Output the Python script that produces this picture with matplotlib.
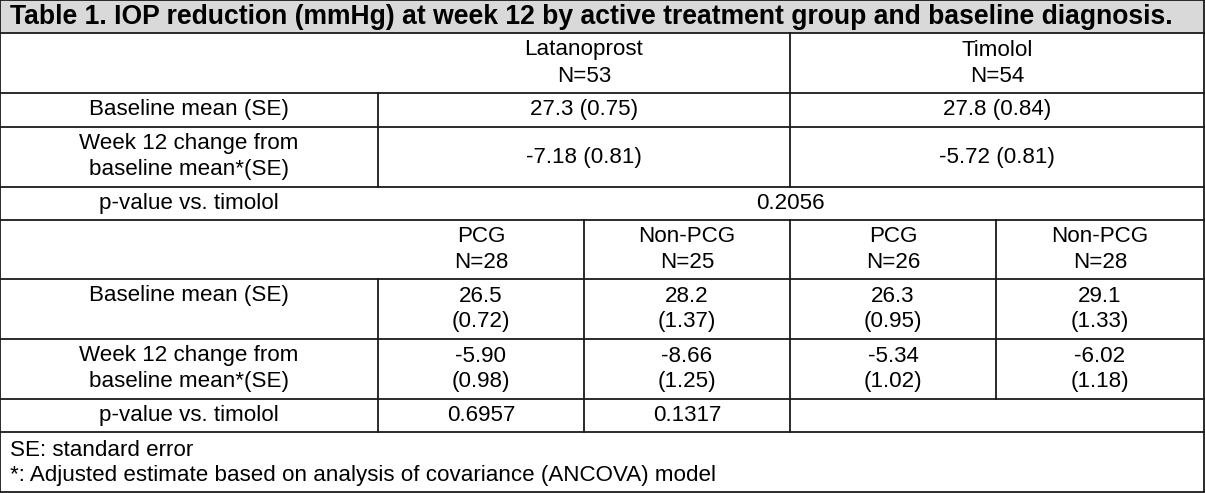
import matplotlib

matplotlib.use("Agg")
import matplotlib.pyplot as plt
from matplotlib.patches import Rectangle

plt.rcParams["font.family"] = ["Liberation Sans", "DejaVu Sans"]

TITLE = "Table 1. IOP reduction (mmHg) at week 12 by active treatment group and baseline diagnosis."

groups = ["Latanoprost\nN=53", "Timolol\nN=54"]
overall_baseline = ["27.3 (0.75)", "27.8 (0.84)"]
overall_change = ["-7.18 (0.81)", "-5.72 (0.81)"]
overall_p = "0.2056"

subgroups = ["PCG\nN=28", "Non-PCG\nN=25", "PCG\nN=26", "Non-PCG\nN=28"]
sub_baseline = ["26.5\n(0.72)", "28.2\n(1.37)", "26.3\n(0.95)", "29.1\n(1.33)"]
sub_change = ["-5.90\n(0.98)", "-8.66\n(1.25)", "-5.34\n(1.02)", "-6.02\n(1.18)"]
sub_p = ["0.6957", "0.1317"]

row_labels = ["Baseline mean (SE)", "Week 12 change from\nbaseline mean*(SE)", "p-value vs. timolol"]
footnotes = ["SE: standard error",
             "*: Adjusted estimate based on analysis of covariance (ANCOVA) model"]

# layout in pixels
W, H = 1205, 493
xs = [0, 378, 584, 790, 996, 1204]
ys = [0, 33, 93, 127, 187, 220, 279, 339, 399, 432, 492]
GAP = 26
FS = 16.1
TFS = 19.1
LC = "#1a1a1a"
LW = 1.3

fig = plt.figure(figsize=(W / 100, H / 100), dpi=100)
ax = fig.add_axes([0, 0, 1, 1])
ax.set_xlim(0, W)
ax.set_ylim(H, 0)
ax.axis("off")

ax.add_patch(Rectangle((0, 0), xs[-1], ys[1], facecolor="#d9d9d9", edgecolor="none"))


def hl(y, x0=0, x1=xs[-1]):
    ax.plot([x0, x1], [y, y], color=LC, lw=LW, solid_capstyle="projecting")


def vl(x, y0, y1):
    ax.plot([x, x], [y0, y1], color=LC, lw=LW, solid_capstyle="projecting")


def cell(xc, yc, text, n_rows=None):
    lines = text.split("\n")
    n = len(lines) if n_rows is None else n_rows
    y0 = yc - (n - 1) * GAP / 2
    for i, s in enumerate(lines):
        ax.text(xc, y0 + i * GAP, s, ha="center", va="center", fontsize=FS)


# grid
for y in ys:
    hl(y)
vl(0, 0, ys[-1])
vl(xs[-1], 0, ys[-1])
vl(xs[3], ys[1], ys[4])
vl(xs[1], ys[2], ys[4])
vl(xs[1], ys[6], ys[9])
vl(xs[2], ys[5], ys[9])
vl(xs[3], ys[5], ys[9])
vl(xs[4], ys[5], ys[8])

# title
ax.text(10, ys[1] / 2 + 1, TITLE, ha="left", va="center", fontsize=TFS, fontweight="bold")

mid = lambda a, b: (a + b) / 2
label_x = mid(xs[0], xs[1])
grp_x = [mid(xs[1], xs[3]), mid(xs[3], xs[5])]
sub_x = [mid(xs[i], xs[i + 1]) for i in range(1, 5)]

# overall block
for x, g in zip(grp_x, groups):
    cell(x, mid(ys[1], ys[2]), g)
cell(label_x, mid(ys[2], ys[3]), row_labels[0])
for x, v in zip(grp_x, overall_baseline):
    cell(x, mid(ys[2], ys[3]), v)
cell(label_x, mid(ys[3], ys[4]), row_labels[1])
for x, v in zip(grp_x, overall_change):
    cell(x, mid(ys[3], ys[4]), v)
cell(label_x, mid(ys[4], ys[5]), row_labels[2])
cell(xs[3], mid(ys[4], ys[5]), overall_p)

# subgroup block
for x, g in zip(sub_x, subgroups):
    cell(x, mid(ys[5], ys[6]), g)
cell(label_x, mid(ys[6], ys[7]), row_labels[0], n_rows=2)
for x, v in zip(sub_x, sub_baseline):
    cell(x, mid(ys[6], ys[7]), v)
cell(label_x, mid(ys[7], ys[8]), row_labels[1])
for x, v in zip(sub_x, sub_change):
    cell(x, mid(ys[7], ys[8]), v)
cell(label_x, mid(ys[8], ys[9]), row_labels[2])
for x, v in zip(sub_x, sub_p):
    cell(x, mid(ys[8], ys[9]), v)

# footnotes
for i, f in enumerate(footnotes):
    ax.text(10, mid(ys[9], ys[10]) + (i - 0.5) * GAP + 1, f, ha="left", va="center", fontsize=FS)

fig.savefig("out.png", dpi=100)
